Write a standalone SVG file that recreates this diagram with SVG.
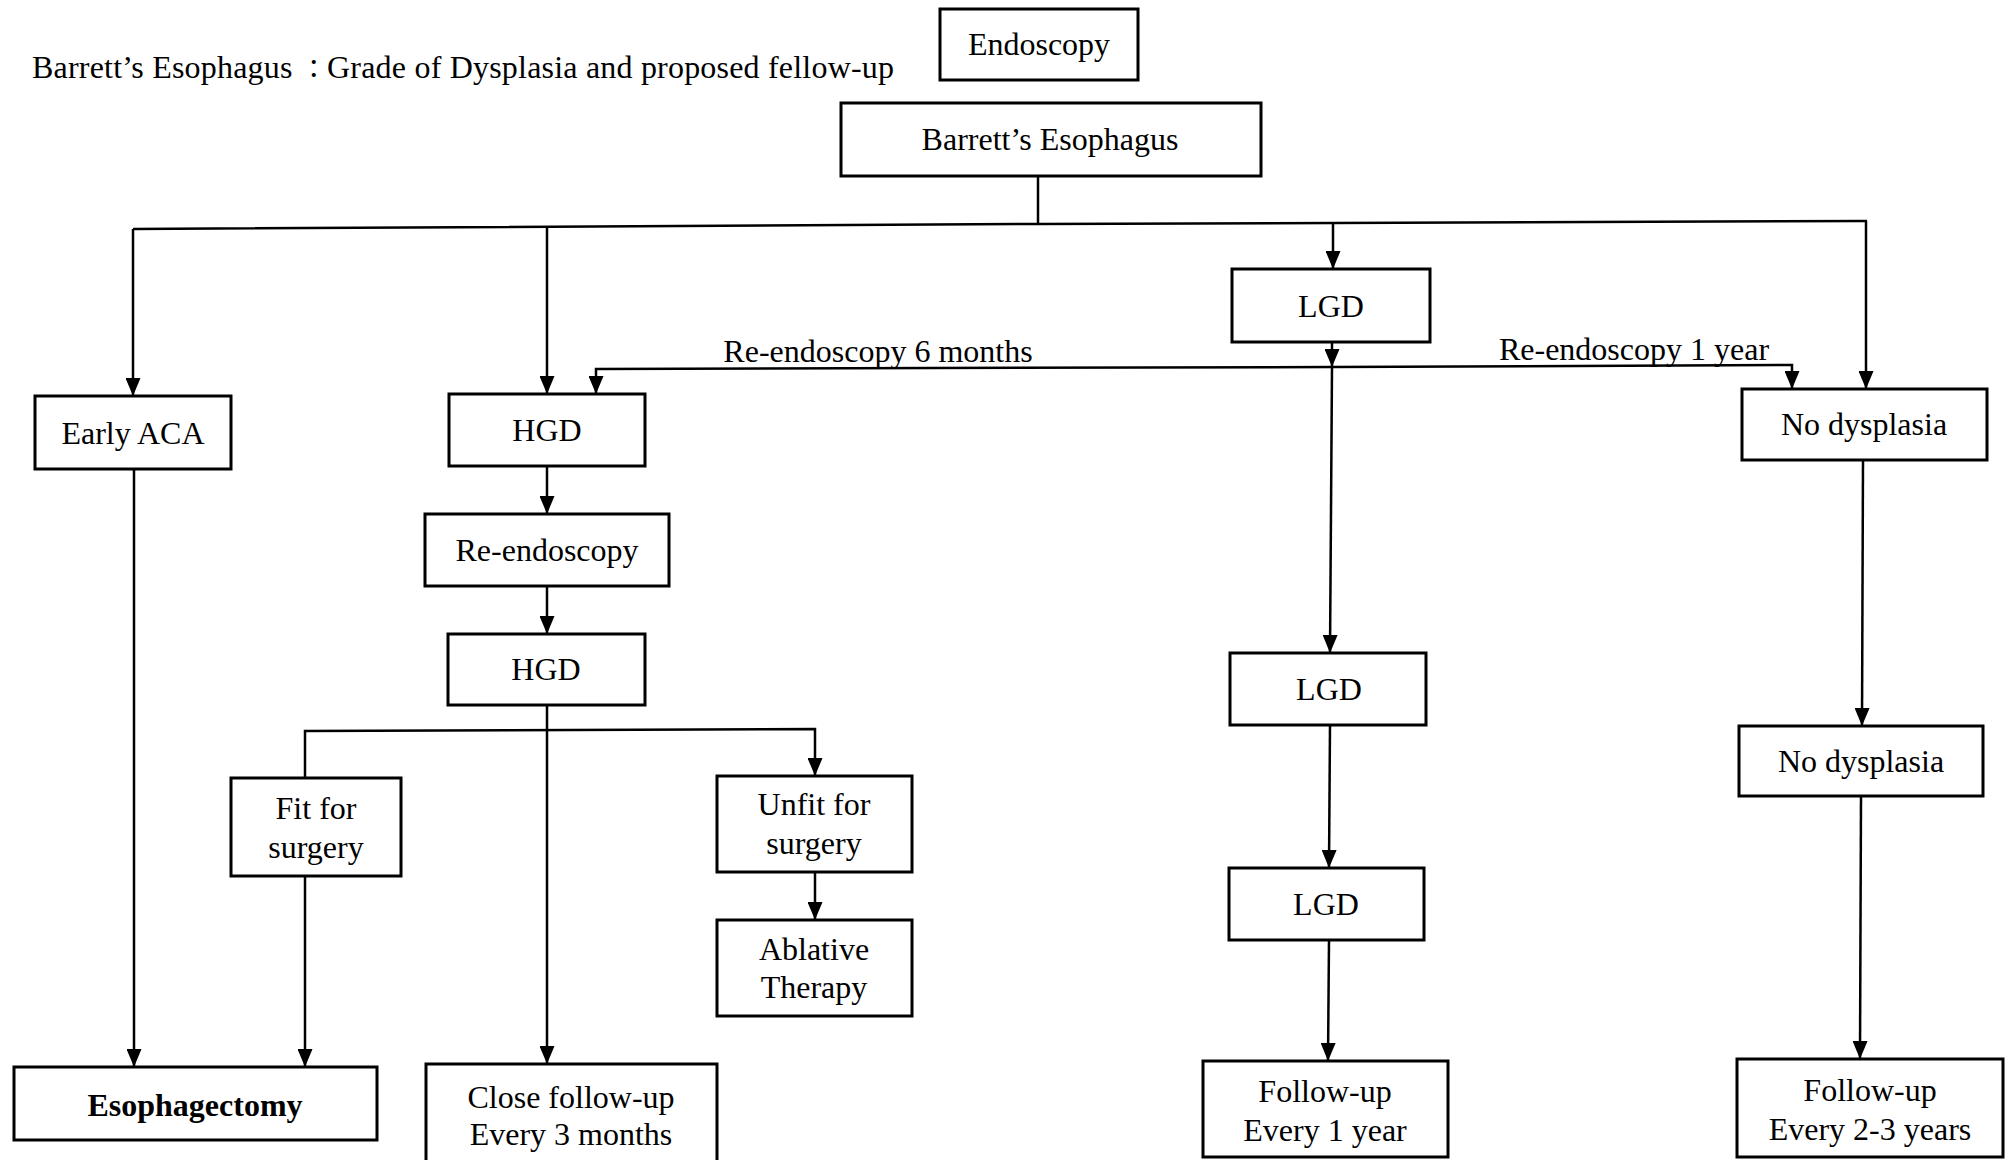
<svg xmlns="http://www.w3.org/2000/svg" width="2011" height="1160" viewBox="0 0 2011 1160">
<style>
.box{fill:#fff;stroke:#000;stroke-width:3}
.t{font-family:"Liberation Serif","Noto Sans CJK SC",serif;font-size:32px;fill:#000;text-anchor:middle}
.b{font-weight:bold}
.c{fill:none;stroke:#000;stroke-width:2.5}
</style>
<defs>
<marker id="ah" markerUnits="userSpaceOnUse" markerWidth="18" markerHeight="15" refX="18" refY="7.5" orient="auto"><path d="M0,0 L18,7.5 L0,15 z" fill="#000"/></marker>
</defs>
<rect width="2011" height="1160" fill="#fff"/>
<text x="32" y="78" font-family="Liberation Serif,Noto Sans CJK JP,serif" font-size="32" textLength="862">Barrett’s Esophagus <tspan font-family="Noto Sans CJK JP,sans-serif" font-size="26">：</tspan>Grade of Dysplasia and proposed fellow-up</text>
<g id="connectors">
<line class="c" x1="1038" y1="176" x2="1038" y2="224"/>
<polyline class="c" points="133,229 1038,224 1867,221"/>
<line class="c" x1="133" y1="229" x2="133" y2="396" marker-end="url(#ah)"/>
<line class="c" x1="547" y1="227" x2="547" y2="394" marker-end="url(#ah)"/>
<line class="c" x1="1333" y1="222" x2="1333" y2="269" marker-end="url(#ah)"/>
<line class="c" x1="1866" y1="221" x2="1866" y2="389" marker-end="url(#ah)"/>
<line class="c" x1="1332" y1="342" x2="1332" y2="367" marker-end="url(#ah)"/>
<polyline class="c" points="1332,367 596,369 596,394" marker-end="url(#ah)"/>
<polyline class="c" points="1332,367 1792,365 1792,389" marker-end="url(#ah)"/>
<line class="c" x1="1332" y1="367" x2="1330" y2="653" marker-end="url(#ah)"/>
<line class="c" x1="547" y1="466" x2="547" y2="514" marker-end="url(#ah)"/>
<line class="c" x1="547" y1="586" x2="547" y2="634" marker-end="url(#ah)"/>
<line class="c" x1="547" y1="705" x2="547" y2="1064" marker-end="url(#ah)"/>
<polyline class="c" points="305,778 305,731 815,729 815,776" marker-end="url(#ah)"/>
<line class="c" x1="134" y1="469" x2="134" y2="1067" marker-end="url(#ah)"/>
<line class="c" x1="305" y1="876" x2="305" y2="1067" marker-end="url(#ah)"/>
<line class="c" x1="815" y1="872" x2="815" y2="920" marker-end="url(#ah)"/>
<line class="c" x1="1330" y1="725" x2="1329" y2="868" marker-end="url(#ah)"/>
<line class="c" x1="1329" y1="940" x2="1328" y2="1061" marker-end="url(#ah)"/>
<line class="c" x1="1863" y1="460" x2="1862" y2="726" marker-end="url(#ah)"/>
<line class="c" x1="1861" y1="796" x2="1860" y2="1059" marker-end="url(#ah)"/>
<text class="t" x="878" y="362">Re-endoscopy 6 months</text>
<text class="t" x="1634" y="360">Re-endoscopy 1 year</text>
</g>
<g id="n-endoscopy"><rect class="box" x="940" y="9" width="198" height="71"/><text class="t" x="1039" y="55">Endoscopy</text></g>
<g id="n-barrett"><rect class="box" x="841" y="103" width="420" height="73"/><text class="t" x="1050" y="150">Barrett’s Esophagus</text></g>
<g id="n-early-aca"><rect class="box" x="35" y="396" width="196" height="73"/><text class="t" x="133" y="444">Early ACA</text></g>
<g id="n-hgd1"><rect class="box" x="449" y="394" width="196" height="72"/><text class="t" x="547" y="441">HGD</text></g>
<g id="n-reendo"><rect class="box" x="425" y="514" width="244" height="72"/><text class="t" x="547" y="561">Re-endoscopy</text></g>
<g id="n-hgd2"><rect class="box" x="448" y="634" width="197" height="71"/><text class="t" x="546" y="680">HGD</text></g>
<g id="n-fit"><rect class="box" x="231" y="778" width="170" height="98"/><text class="t" x="316" y="819">Fit for</text><text class="t" x="316" y="858">surgery</text></g>
<g id="n-unfit"><rect class="box" x="717" y="776" width="195" height="96"/><text class="t" x="814" y="815">Unfit for</text><text class="t" x="814" y="854">surgery</text></g>
<g id="n-ablative"><rect class="box" x="717" y="920" width="195" height="96"/><text class="t" x="814" y="960">Ablative</text><text class="t" x="814" y="998">Therapy</text></g>
<g id="n-esophagectomy"><rect class="box" x="14" y="1067" width="363" height="73"/><text class="t b" x="195" y="1116">Esophagectomy</text></g>
<g id="n-close"><rect class="box" x="426" y="1064" width="291" height="110"/><text class="t" x="571" y="1108">Close follow-up</text><text class="t" x="571" y="1145">Every 3 months</text></g>
<g id="n-lgd1"><rect class="box" x="1232" y="269" width="198" height="73"/><text class="t" x="1331" y="317">LGD</text></g>
<g id="n-lgd2"><rect class="box" x="1230" y="653" width="196" height="72"/><text class="t" x="1329" y="700">LGD</text></g>
<g id="n-lgd3"><rect class="box" x="1229" y="868" width="195" height="72"/><text class="t" x="1326" y="915">LGD</text></g>
<g id="n-fu1"><rect class="box" x="1203" y="1061" width="245" height="96"/><text class="t" x="1325" y="1102">Follow-up</text><text class="t" x="1325" y="1141">Every 1 year</text></g>
<g id="n-nodys1"><rect class="box" x="1742" y="389" width="245" height="71"/><text class="t" x="1864" y="435">No dysplasia</text></g>
<g id="n-nodys2"><rect class="box" x="1739" y="726" width="244" height="70"/><text class="t" x="1861" y="772">No dysplasia</text></g>
<g id="n-fu23"><rect class="box" x="1737" y="1059" width="266" height="98"/><text class="t" x="1870" y="1101">Follow-up</text><text class="t" x="1870" y="1140">Every 2-3 years</text></g>
</svg>
